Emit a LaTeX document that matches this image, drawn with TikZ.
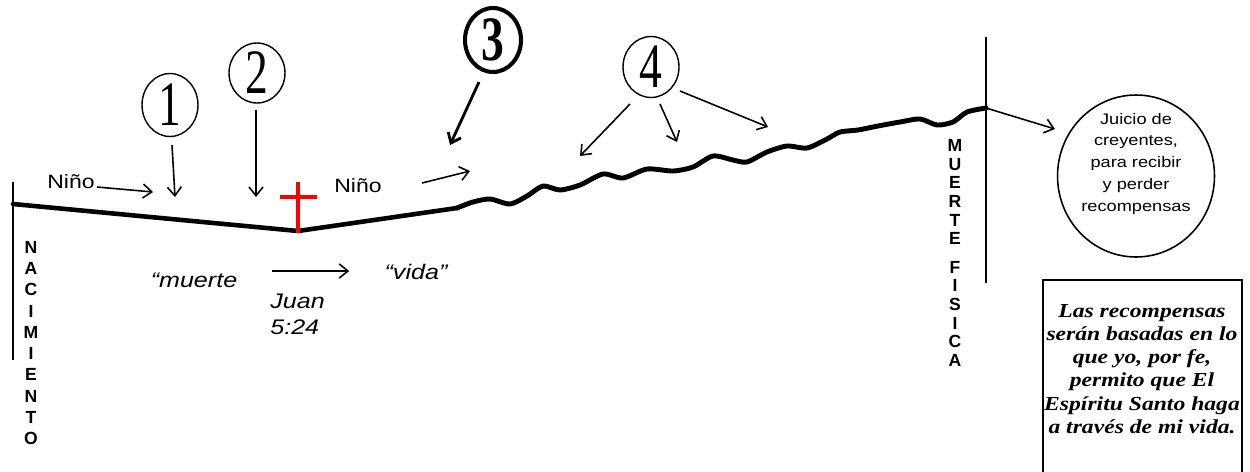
\documentclass[tikz,border=0pt]{standalone}
\usepackage{fontspec}
\usepackage{graphicx}
\setmainfont{Liberation Sans}
\newfontfamily\timesf{Liberation Serif}
\usetikzlibrary{arrows.meta,shapes.geometric,calc}
\newcommand{\hs}[1]{\scalebox{1.19}[1]{#1}}
\newcommand{\dg}[1]{\scalebox{0.72}[1]{#1}}
\begin{document}
\begin{tikzpicture}[x=0.02cm,y=-0.02cm,
  arr/.style={-{Straight Barb[length=5pt,width=8pt]}, line width=0.9pt},
  numc/.style={draw, ellipse, line width=0.8pt, minimum width=1.12cm, minimum height=1.26cm, inner sep=0pt,
    font=\timesf\fontsize{36}{36}\selectfont},
  lbl/.style={font=\fontsize{11}{13}\selectfont, inner sep=0pt},
  ital/.style={font=\itshape\fontsize{12}{14.7}\selectfont, inner sep=0pt, align=left},
  vlet/.style={font=\bfseries\fontsize{10}{12.13}\selectfont, align=center, inner sep=0pt},
  life/.style={line width=2.6pt, line join=round, line cap=round},
  thinline/.style={line width=1.2pt},
]
\useasboundingbox (0,0) rectangle (1250,471);

% life line
\coordinate (birth) at (13,204);
\coordinate (low) at (298,231);
\coordinate (w0) at (457,208);
\coordinate (death) at (986,108);
\draw[life] (birth) -- (low) -- (w0);
\draw[life, line width=2.8pt] plot[smooth, tension=0.45] coordinates {
 (457,208) (473,202) (490,199) (510,204) (527,196) (543,186) (560,190) (580,185)
 (603,174) (623,178) (647,169) (673,171) (693,167) (713,156) (733,160) (747,162)
 (767,152) (787,146) (807,148) (827,139) (840,132) (858,130) (878,126) (900,122)
 (920,119) (937,125) (953,122) (967,112) (986,108)};

% vertical lines
\coordinate (nt) at (13,182); \coordinate (nb) at (13,360);
\draw[thinline] (nt) -- (nb);
\coordinate (mt) at (986,37); \coordinate (mb) at (986,283);
\draw[thinline] (mt) -- (mb);

% cross
\coordinate (crt) at (298,182); \coordinate (crb) at (298,233);
\coordinate (crl) at (280,197); \coordinate (crr) at (317,197);
\draw[red, line width=2.8pt] (crt) -- (crb) (crl) -- (crr);

% numbered circles
\node[numc] (c1) at (170,105) {\dg{1}};
\node[numc, minimum height=1.2cm] (c2) at (257,73) {\dg{2}};
\node[numc, line width=2.3pt, minimum width=1.12cm, minimum height=1.28cm,
  font=\timesf\bfseries\fontsize{36}{36}\selectfont] (c3) at (493,40) {\dg{3}};
\node[numc, minimum height=1.22cm] (c4) at (651,67) {\dg{4}};

% labels
\node[lbl] (nino1) at (71,182) {\hs{Niño}};
\node[lbl] (nino2) at (358,186) {\hs{Niño}};
\node[ital] (muerte) at (194,280) {\hs{“muerte}};
\node[ital] (vida) at (416,272) {\hs{“vida”}};
\node[ital, anchor=north west] (juan) at (270,294) {\hs{Juan}\\\hs{5:24}};
\node[vlet] (nac) at (31,343) {N\\A\\C\\I\\M\\I\\E\\N\\T\\O};
\node[vlet, font=\bfseries\fontsize{10}{10.6}\selectfont] (mf) at (955,253) {M\\U\\E\\R\\T\\E\\[5.6pt]F\\I\\S\\I\\C\\A};

% arrow end points
\coordinate (e1) at (153,192);
\coordinate (e2) at (175,197);
\coordinate (e3) at (256,197);
\coordinate (e4) at (470,171);
\coordinate (e5) at (450,145);
\coordinate (e6) at (580,156);
\coordinate (e7) at (677,142);
\coordinate (e8) at (768,127);

\draw[arr] ($(nino1.east)+(2,5)$) -- (e1);
\draw[arr] ($(c1)+(2,40)$) -- (e2);
\draw[arr] ($(c2)+(-1,37)$) -- (e3);
\draw[arr] ($(nino2.east)+(40,-3)$) -- (e4);
\draw[arr, line width=1.6pt] ($(c3)+(-14,42)$) -- (e5);
\draw[arr] ($(c4)+(-21,37)$) -- (e6);
\draw[arr] ($(c4)+(9,37)$) -- (e7);
\draw[arr] ($(c4)+(29,24)$) -- (e8);
\draw[arr] ($(muerte.east)+(34,-9)$) -- ($(vida.west)+(-35,-1)$);

% judgement
\node[draw, ellipse, line width=0.9pt, minimum width=3.14cm, minimum height=3.24cm] (judge) at (1136,176) {};
\node[font=\fontsize{8.7}{12.5}\selectfont, align=center, inner sep=0pt] (jtext) at (1136,164)
  {\hs{Juicio de}\\\hs{creyentes,}\\\hs{para recibir}\\\hs{y perder}\\\hs{recompensas}};
\draw[arr] (death) -- ($(judge)+(-81,-47)$);

% rewards box
\coordinate (bx1) at (1043,280); \coordinate (bx2) at (1242,495);
\draw[line width=0.9pt] (bx1) rectangle (bx2);
\node[font=\timesf\bfseries\itshape\fontsize{11.3}{13.2}\selectfont, align=center, inner sep=0pt] (rtext) at (1142,369)
  {\hs{Las recompensas}\\\hs{serán basadas en lo}\\\hs{que yo, por fe,}\\\hs{permito que El}\\\hs{Espíritu Santo haga}\\\hs{a través de mi vida.}};
\end{tikzpicture}
\end{document}
